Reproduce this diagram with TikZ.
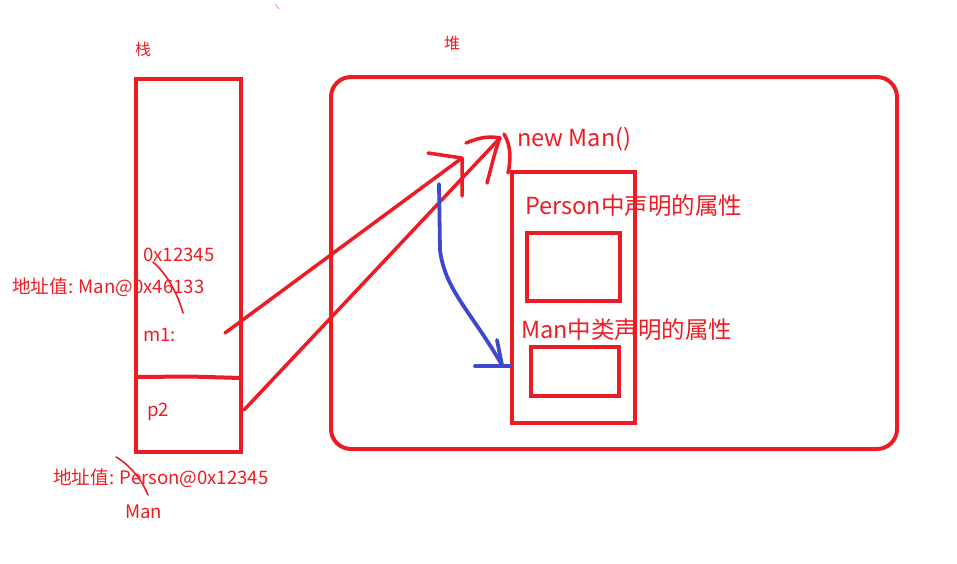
\documentclass[tikz,border=0pt]{standalone}
\usepackage{fontspec}
\setmainfont{Noto Sans CJK SC}
\definecolor{pred}{RGB}{237,28,36}
\definecolor{pblue}{RGB}{63,72,204}
\begin{document}
\begin{tikzpicture}[x=1pt,y=-1pt,
  box/.style={draw=pred,line width=4pt},
  pen/.style={draw=pred,line width=3.5pt,line cap=round,line join=round},
  thin/.style={draw=pred,line width=1.6pt,line cap=round},
  bpen/.style={draw=pblue,line width=3.8pt,line cap=round,line join=round},
  big/.style={text=pred,font=\fontsize{23.5}{23.5}\selectfont,anchor=west,inner sep=0pt},
  small/.style={text=pred,font=\fontsize{18.6}{18.6}\selectfont,anchor=west,inner sep=0pt},
  tiny/.style={text=pred,font=\fontsize{16}{16}\selectfont,anchor=west,inner sep=0pt}]
\useasboundingbox (0,0) rectangle (957,563);
% stack
\draw[box] (136,79) rectangle (241,452);
\draw[box,line join=miter] (136,377) -- (190,376.5) -- (241,378);
% heap
\draw[box,rounded corners=20pt] (331,77) rectangle (897,449);
% object
\draw[box] (512,172) rectangle (635,423);
\draw[box] (527,233) rectangle (620,301);
\draw[box] (531,347) rectangle (619,396);
% labels
\node[tiny] (zhan) at (135,49) {栈};
\node[tiny] (dui) at (444,43) {堆};
\node[small] (addr1) at (143,255) {0x12345};
\node[small] (old1) at (12,287) {地址值: Man@0x46133};
\node[small] (m1) at (143,335) {m1:};
\node[small] (p2) at (147,412) {p2};
\node[small] (old2) at (53,478) {地址值: Person@0x12345};
\node[small] (man) at (125,512) {Man};
\node[big] (newman) at (517,139) {new Man()};
\node[big] (pattr) at (525,206) {Person中声明的属性};
\node[big] (mattr) at (521,330) {Man中类声明的属性};
% strike marks
\draw[thin] (153,262) .. controls (168,275) and (178,295) .. (183,313);
\draw[thin] (116,457) .. controls (130,465) and (142,480) .. (148,495);
\draw[draw=pred!50,line width=0.8pt] (275,4) -- (279,9);
% red arrows
\coordinate (s1) at (225,333);
\coordinate (t1) at (462,158);
\coordinate (s2) at (244,410);
\coordinate (t2) at (500,138);
\draw[pen] (s1) -- (t1);
\draw[pen] (428,153) -- (t1) -- (462,196);
\draw[pen] (s2) -- (t2);
\draw[pen] (466,143) .. controls (480,137) and (490,136) .. (t2);
\draw[pen] (487,183) .. controls (492,165) and (495,150) .. (t2);
\draw[pen] (504,134) .. controls (511,145) and (511,160) .. (508,173);
% blue arrow
\coordinate (b0) at (439,184);
\coordinate (b1) at (502,365);
\draw[bpen] (b0) -- (440,250) .. controls (445,290) and (470,310) .. (b1);
\draw[bpen] (497,340) -- (b1);
\draw[bpen] (475,366) -- (510,366);
\end{tikzpicture}
\end{document}
